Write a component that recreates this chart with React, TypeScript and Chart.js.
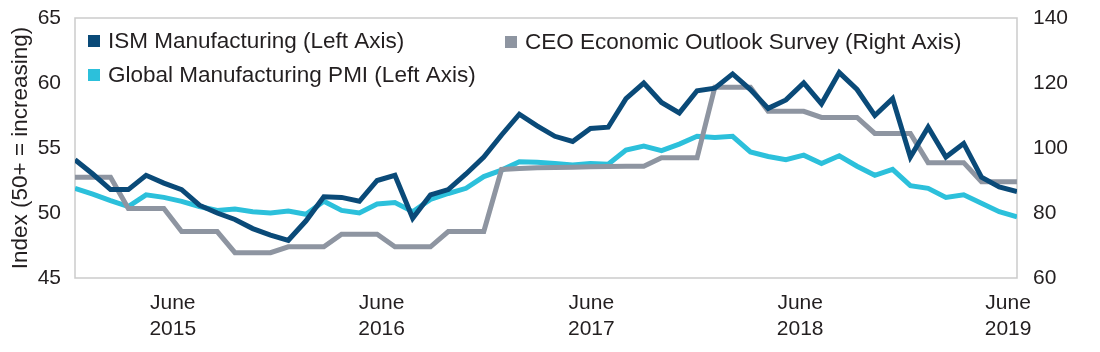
import React, { useEffect, useRef } from 'react';
import { Chart, registerables } from 'chart.js';

Chart.register(...registerables);

// ---- Data (monthly, Jan 2015 – Jun 2019) ----
const months = [
  'Jan 2015', 'Feb 2015', 'Mar 2015', 'Apr 2015', 'May 2015', 'Jun 2015', 'Jul 2015', 'Aug 2015', 'Sep 2015', 'Oct 2015', 'Nov 2015', 'Dec 2015',
  'Jan 2016', 'Feb 2016', 'Mar 2016', 'Apr 2016', 'May 2016', 'Jun 2016', 'Jul 2016', 'Aug 2016', 'Sep 2016', 'Oct 2016', 'Nov 2016', 'Dec 2016',
  'Jan 2017', 'Feb 2017', 'Mar 2017', 'Apr 2017', 'May 2017', 'Jun 2017', 'Jul 2017', 'Aug 2017', 'Sep 2017', 'Oct 2017', 'Nov 2017', 'Dec 2017',
  'Jan 2018', 'Feb 2018', 'Mar 2018', 'Apr 2018', 'May 2018', 'Jun 2018', 'Jul 2018', 'Aug 2018', 'Sep 2018', 'Oct 2018', 'Nov 2018', 'Dec 2018',
  'Jan 2019', 'Feb 2019', 'Mar 2019', 'Apr 2019', 'May 2019', 'Jun 2019',
];

const ismManufacturing = [
  54.1, 53.0, 51.8, 51.8, 52.9, 52.3, 51.8, 50.6, 50.0, 49.5, 48.8, 48.3,
  47.9, 49.4, 51.25, 51.2, 50.9, 52.5, 52.9, 49.6, 51.4, 51.8, 53.0, 54.3,
  56.0, 57.6, 56.7, 55.9, 55.5, 56.5, 56.6, 58.8, 60.0, 58.5, 57.7, 59.4,
  59.6, 60.7, 59.5, 58.05, 58.7, 60.0, 58.4, 60.8, 59.5, 57.5, 58.8, 54.3,
  56.6, 54.3, 55.35, 52.75, 52.0, 51.65,
];

const globalManufacturingPmi = [
  51.9, 51.45, 50.95, 50.5, 51.4, 51.2, 50.9, 50.5, 50.2, 50.3, 50.1, 50.0,
  50.15, 49.9, 50.9, 50.2, 50.0, 50.7, 50.8, 50.1, 51.05, 51.5, 51.9, 52.8,
  53.3, 53.95, 53.9, 53.8, 53.7, 53.8, 53.75, 54.85, 55.15, 54.8, 55.3, 55.9,
  55.8, 55.9, 54.7, 54.35, 54.1, 54.45, 53.8, 54.4, 53.6, 52.9, 53.35, 52.1,
  51.9, 51.2, 51.4, 50.75, 50.1, 49.7,
];

const ceoEconomicOutlook = [
  91.0, 91.0, 91.0, 81.4, 81.4, 81.4, 74.3, 74.3, 74.3, 67.8, 67.8, 67.8,
  69.6, 69.6, 69.6, 73.5, 73.5, 73.5, 69.6, 69.6, 69.6, 74.3, 74.3, 74.3,
  93.4, 93.7, 93.9, 94.0, 94.1, 94.2, 94.3, 94.4, 94.4, 97.0, 97.0, 97.0,
  118.7, 118.7, 118.7, 111.3, 111.3, 111.3, 109.4, 109.4, 109.4, 104.5, 104.5, 104.5,
  95.5, 95.5, 95.5, 89.6, 89.6, 89.6,
];

// x-axis ticks: position on the month index scale and their labels
const xTickMonthIndex = [5.5, 17.25, 29.05, 40.8, 52.5];
const xTickLabels = [
  ['June', '2015'],
  ['June', '2016'],
  ['June', '2017'],
  ['June', '2018'],
  ['June', '2019'],
];

const seriesLabels = [
  'ISM Manufacturing (Left Axis)',
  'Global Manufacturing PMI (Left Axis)',
  'CEO Economic Outlook Survey (Right Axis)',
];

const leftAxisTitle = 'Index (50+ = increasing)';

// ---- Styles ----
const FONT = "'Liberation Sans', Arial, Helvetica, sans-serif";
const TEXT = '#231f20';
const COLOR_ISM = '#0a4a78';
const COLOR_PMI = '#2cc0db';
const COLOR_CEO = '#8e95a1';
const BORDER = '#cbcbcb';

const toPoints = (values: number[]) => values.map((y, i) => ({ x: i, y }));

const frameAndLegend = {
  id: 'frameAndLegend',
  beforeDatasetsDraw(chart: any) {
    const { ctx, chartArea } = chart;
    ctx.save();
    ctx.strokeStyle = BORDER;
    ctx.lineWidth = 1.5;
    ctx.strokeRect(chartArea.left, chartArea.top, chartArea.right - chartArea.left, chartArea.bottom - chartArea.top);
    ctx.restore();
  },
  afterDatasetsDraw(chart: any) {
    const { ctx } = chart;
    const slots = [
      { x: 88, y: 41 },
      { x: 88, y: 75 },
      { x: 505, y: 42 },
    ];
    ctx.save();
    ctx.font = `22.5px ${FONT}`;
    ctx.textBaseline = 'middle';
    ctx.textAlign = 'left';
    chart.data.datasets.forEach((ds: any, i: number) => {
      const s = slots[i];
      ctx.fillStyle = ds.borderColor;
      ctx.fillRect(s.x, s.y - 6, 12, 12);
      ctx.fillStyle = TEXT;
      ctx.fillText(ds.label, s.x + 20, s.y + 1);
    });
    ctx.restore();
  },
};

const noVerticalPadding = (scale: any, width: number) => {
  scale.width = width;
  scale.paddingTop = 0;
  scale.paddingBottom = 0;
};

export default function App() {
  const canvasRef = useRef<HTMLCanvasElement | null>(null);

  useEffect(() => {
    if (!canvasRef.current) return;
    const chart = new Chart(canvasRef.current, {
      type: 'line',
      data: {
        labels: months,
        datasets: [
          {
            label: seriesLabels[0],
            data: toPoints(ismManufacturing),
            borderColor: COLOR_ISM,
            backgroundColor: COLOR_ISM,
            borderWidth: 5,
            pointRadius: 0,
            tension: 0,
            yAxisID: 'y',
            order: 0,
          },
          {
            label: seriesLabels[1],
            data: toPoints(globalManufacturingPmi),
            borderColor: COLOR_PMI,
            backgroundColor: COLOR_PMI,
            borderWidth: 5,
            pointRadius: 0,
            tension: 0,
            yAxisID: 'y',
            order: 2,
          },
          {
            label: seriesLabels[2],
            data: toPoints(ceoEconomicOutlook),
            borderColor: COLOR_CEO,
            backgroundColor: COLOR_CEO,
            borderWidth: 5,
            pointRadius: 0,
            tension: 0,
            yAxisID: 'y1',
            order: 1,
          },
        ],
      },
      options: {
        responsive: false,
        animation: false,
        layout: { padding: { top: 18, left: 0, right: 0, bottom: 0 } },
        plugins: {
          legend: { display: false },
          tooltip: { enabled: false },
        },
        scales: {
          x: {
            type: 'linear',
            min: 0,
            max: months.length - 1,
            grid: { display: false, drawTicks: false },
            border: { display: false },
            afterBuildTicks: (scale: any) => {
              scale.ticks = xTickMonthIndex.map((value) => ({ value }));
            },
            afterFit: (scale: any) => {
              scale.height = 74;
              scale.paddingLeft = 0;
              scale.paddingRight = 0;
            },
            ticks: {
              autoSkip: false,
              maxRotation: 0,
              minRotation: 0,
              padding: 13,
              color: TEXT,
              font: { family: FONT, size: 21, lineHeight: 1.2 },
              callback: (_v: any, i: number) => xTickLabels[i],
            },
          },
          y: {
            type: 'linear',
            position: 'left',
            min: 45,
            max: 65,
            grid: { display: false, drawTicks: false },
            border: { display: false },
            afterFit: (scale: any) => noVerticalPadding(scale, 75),
            ticks: {
              stepSize: 5,
              padding: 14,
              color: TEXT,
              font: { family: FONT, size: 21 },
            },
            title: {
              display: true,
              text: leftAxisTitle,
              color: TEXT,
              padding: { top: 7, bottom: 0 },
              font: { family: FONT, size: 22.5 },
            },
          },
          y1: {
            type: 'linear',
            position: 'right',
            min: 60,
            max: 140,
            grid: { display: false, drawTicks: false },
            border: { display: false },
            afterFit: (scale: any) => noVerticalPadding(scale, 83),
            ticks: {
              stepSize: 20,
              padding: 16,
              color: TEXT,
              font: { family: FONT, size: 21 },
            },
          },
        },
      },
      plugins: [frameAndLegend],
    } as any);
    return () => chart.destroy();
  }, []);

  return (
    <div style={{ position: 'fixed', left: 0, top: 0, width: 1100, height: 352, background: '#ffffff' }}>
      <canvas ref={canvasRef} width={1100} height={352} style={{ display: 'block' }} />
    </div>
  );
}
